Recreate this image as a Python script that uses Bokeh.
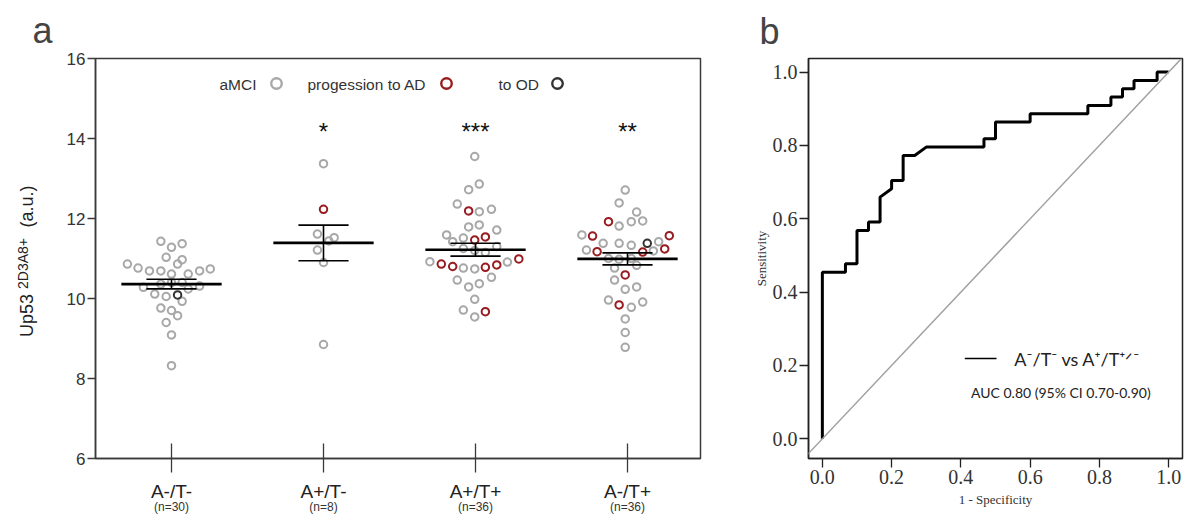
import numpy as np
from bokeh.plotting import figure
from bokeh.models import (ColumnDataSource, Label, FixedTicker, PrintfTickFormatter, Slope,
                          LinearAxis)
from bokeh.layouts import row
from bokeh.embed import file_html
from bokeh.resources import INLINE
from bokeh.core.properties import value

# ---------------- data: panel a ----------------
categories = ["A-/T-", "A+/T-", "A+/T+", "A-/T+"]
n_labels = ["(n=30)", "(n=8)", "(n=36)", "(n=36)"]
stars = ["", "*", "***", "**"]

g1_vals = [11.43, 11.28, 11.37, 11.03, 10.97, 10.86, 10.86, 10.76, 10.69, 10.69,
           10.61, 10.61, 10.69, 10.74, 10.28, 10.36, 10.40, 10.40, 10.24, 10.31,
           10.11, 10.05, 10.09, 9.93, 9.76, 9.70, 9.57, 9.40, 9.09, 8.32]
g1_jit = [-0.07, 0, 0.07, -0.035, 0.07, 0.04, -0.29, -0.22, -0.145, -0.07,
          0, 0.11, 0.185, 0.255, -0.185, -0.07, 0, 0.07, 0.11, 0.185,
          -0.11, -0.035, 0.04, 0.07, -0.07, 0, 0.04, -0.035, 0, 0]
g1_cls = ["aMCI"] * 30
g1_cls[22] = "OD"

g2_vals = [13.37, 12.23, 11.61, 11.44, 11.52, 11.21, 10.90, 8.85]
g2_jit = [0, 0, -0.04, 0.035, 0.07, -0.04, 0, 0]
g2_cls = ["aMCI", "AD", "aMCI", "aMCI", "aMCI", "aMCI", "aMCI", "aMCI"]

g3_vals = [13.55, 12.86, 12.72, 12.36, 12.19, 12.17, 12.23, 11.79, 11.84, 11.71,
           11.59, 11.51, 11.46, 11.54, 11.42, 11.25, 11.20, 11.15, 11.30,
           10.92, 10.86, 10.80, 10.76, 10.74, 10.78, 10.84, 10.91, 10.99,
           10.46, 10.29, 10.37, 10.53, 9.98, 9.71, 9.54, 9.67]
g3_jit = [-0.005, 0.025, -0.045, -0.12, -0.045, 0.025, 0.105, -0.045, 0.025, 0.14,
          -0.19, -0.08, -0.005, 0.065, -0.15, -0.08, -0.005, 0.065, 0.14,
          -0.3, -0.225, -0.15, -0.08, -0.005, 0.065, 0.14, 0.21, 0.285,
          -0.12, -0.045, 0.025, 0.105, -0.005, -0.08, -0.005, 0.065]
g3_cls = ["aMCI"] * 36
for i in [4, 12, 13, 20, 21, 24, 25, 27, 35]:
    g3_cls[i] = "AD"

g4_vals = [12.71, 12.39, 12.16, 11.92, 11.81, 11.92, 11.94, 11.59, 11.56, 11.57,
           11.42, 11.38, 11.38, 11.38, 11.33, 11.21, 11.17, 11.16, 11.24, 11.19,
           11.00, 10.98, 11.00, 10.83, 10.76, 10.59, 10.46, 10.23, 10.29,
           9.96, 9.84, 9.78, 9.91, 9.49, 9.15, 8.78]
g4_jit = [-0.015, -0.055, 0.06, -0.125, -0.055, 0.025, 0.1, -0.3, -0.23, 0.275,
          0.205, 0.13, -0.16, -0.055, 0.025, -0.27, -0.2, 0.1, 0.245, 0.17,
          -0.125, -0.055, 0.025, 0.06, -0.085, -0.015, -0.085, -0.015, 0.06,
          -0.125, -0.055, 0.025, 0.1, -0.015, -0.015, -0.015]
g4_cls = ["aMCI"] * 36
for i in [3, 8, 9, 16, 17, 18, 25, 30]:
    g4_cls[i] = "AD"
g4_cls[11] = "OD"

group_means = [10.36, 11.39, 11.22, 10.99]
group_sems = [0.12, 0.445, 0.16, 0.15]

legend_labels = ["aMCI", "progession to AD", "to OD"]
class_keys = ["aMCI", "AD", "OD"]
class_colors = {"aMCI": "#a8a8a8", "AD": "#981c20", "OD": "#333333"}

ylabel_parts = ["Up53", "2D3A8+", "(a.u.)"]

# ---------------- data: panel b (ROC) ----------------
roc_fpr = [0.0, 0.0, 0.0667, 0.0667, 0.1, 0.1, 0.1333, 0.1333, 0.1667, 0.1667,
           0.2, 0.2, 0.2333, 0.2333, 0.2667, 0.3, 0.4667, 0.4667, 0.5, 0.5,
           0.6, 0.6, 0.7667, 0.7667, 0.8333, 0.8333, 0.8667, 0.8667, 0.9, 0.9,
           0.9667, 0.9667, 1.0]
roc_tpr = [0.0, 0.4545, 0.4545, 0.4773, 0.4773, 0.5682, 0.5682, 0.5909, 0.5909, 0.6591,
           0.6818, 0.7045, 0.7045, 0.7727, 0.7727, 0.7955, 0.7955, 0.8182, 0.8182, 0.8636,
           0.8636, 0.8864, 0.8864, 0.9091, 0.9091, 0.9318, 0.9318, 0.9545, 0.9545, 0.9773,
           0.9773, 1.0, 1.0]
roc_ticks = [0.0, 0.2, 0.4, 0.6, 0.8, 1.0]
roc_legend = "A\u207b/T\u207b vs A\u207a/T\u207a\u141f\u207b"
roc_auc = "AUC 0.80 (95% CI 0.70-0.90)"

SANS = "Liberation Sans"
SERIF = "Liberation Serif"
FRAME = "#3a3a3a"
H = 511
LAB_W = 60
TOP = 58          # shared top border (frames start here)
FH = 400          # shared frame height
BOT = H - TOP - FH

# ---------------- strip left of panel a: panel letter and y-axis title ----------------
lab = figure(width=LAB_W, frame_height=FH, x_range=(0, LAB_W), y_range=(H - TOP - FH, H - TOP),
             x_axis_location=None, y_axis_location=None,
             min_border_left=0, min_border_right=0, min_border_top=TOP, min_border_bottom=BOT,
             output_backend="svg", toolbar_location=None, tools="")
lab.xgrid.visible = False
lab.ygrid.visible = False
lab.outline_line_color = None
lab.background_fill_color = "white"
lab.border_fill_color = "white"
lab.title.text = "a"
lab.title.text_font = SANS
lab.title.text_font_size = "36px"
lab.title.text_font_style = "normal"
lab.title.align = "left"
lab.title.vertical_align = "top"
lab.title.offset = 32
lab.title.standoff = 12
lab.text(x=[26, 22, 26], y=[H - 315, H - 263, H - 206], text=ylabel_parts,
         angle=np.pi / 2, text_font=value(SANS), text_font_size=["18px", "14px", "18px"],
         text_align="center", text_baseline="alphabetic", text_color="#222222")

# ---------------- panel a ----------------
def ax_x(px):
    return 0.5 + (px - 95) / 152.0

def ax_y(py):
    return 6 + (458 - py) / 40.0

pa = figure(frame_width=605, frame_height=FH, min_border_left=95 - LAB_W, min_border_right=48,
            min_border_top=TOP, min_border_bottom=BOT,
            x_range=(0.5, 0.5 + 605 / 152.0), y_range=(6, 16),
            output_backend="svg", toolbar_location=None, tools="")
pa.xgrid.visible = False
pa.ygrid.visible = False
pa.outline_line_color = FRAME
pa.outline_line_width = 1.5
pa.background_fill_color = "white"
pa.border_fill_color = "white"

xs, ys, cols = [], [], []
groups = [(g1_vals, g1_jit, g1_cls), (g2_vals, g2_jit, g2_cls),
          (g3_vals, g3_jit, g3_cls), (g4_vals, g4_jit, g4_cls)]
for ck in class_keys:
    for gi, (vals, jit, cls) in enumerate(groups):
        for v, j, c in zip(vals, jit, cls):
            if c == ck:
                xs.append(gi + 1 + j)
                ys.append(v)
                cols.append(class_colors[c])
src = ColumnDataSource(dict(x=xs, y=ys, c=cols))
pa.scatter("x", "y", source=src, marker="circle", size=7.5, line_width=2,
           line_color="c", fill_color=None)

cat_x = np.arange(1, len(categories) + 1)
m = np.array(group_means)
s = np.array(group_sems)
pa.segment(x0=cat_x - 0.33, x1=cat_x + 0.33, y0=m, y1=m, line_width=2.6, line_color="black")
pa.segment(x0=cat_x - 0.165, x1=cat_x + 0.165, y0=m + s, y1=m + s, line_width=1.6, line_color="black")
pa.segment(x0=cat_x - 0.165, x1=cat_x + 0.165, y0=m - s, y1=m - s, line_width=1.6, line_color="black")
pa.segment(x0=cat_x, x1=cat_x, y0=m - s, y1=m + s, line_width=1.6, line_color="black")

pa.text(x=cat_x, y=[ax_y(131)] * 4, text=stars, text_font=value(SANS),
        text_font_size="24px", text_align="center", text_baseline="alphabetic",
        text_color="#111111")

# legend of panel a
leg_text_x = [ax_x(219), ax_x(307), ax_x(498)]
leg_mark_x = [ax_x(276), ax_x(446), ax_x(557)]
pa.text(x=leg_text_x, y=[ax_y(84)] * 3, text=legend_labels, text_font=value(SANS),
        text_font_size="15.5px", text_align="left", text_baseline="middle", text_color="#333333")
pa.scatter(x=leg_mark_x, y=[ax_y(83)] * 3, marker="circle", size=10.5, line_width=2.4,
           line_color=[class_colors[k] for k in class_keys], fill_color=None)

# axes
pa.xaxis.ticker = FixedTicker(ticks=list(cat_x))
pa.xaxis.major_label_overrides = {int(i): c for i, c in zip(cat_x, categories)}
pa.xaxis.major_tick_in = 15
pa.xaxis.major_tick_out = 14
pa.xaxis.minor_tick_line_color = None
pa.xaxis.major_label_text_font = SANS
pa.xaxis.major_label_text_font_size = "19px"
pa.xaxis.major_label_text_color = "#222222"
pa.xaxis.major_label_standoff = 8
pa.xaxis.axis_line_color = FRAME
pa.xaxis.axis_line_width = 1.5
pa.xaxis.major_tick_line_color = FRAME
pa.xaxis.major_tick_line_width = 1.3

n_axis = LinearAxis(ticker=FixedTicker(ticks=list(cat_x)),
                    major_label_overrides={int(i): t for i, t in zip(cat_x, n_labels)},
                    major_tick_in=0, major_tick_out=0, minor_tick_in=0, minor_tick_out=0,
                    major_tick_line_color=None, minor_tick_line_color=None,
                    axis_line_color=None, major_label_standoff=-5,
                    major_label_text_font=SANS, major_label_text_font_size="12px",
                    major_label_text_color="#333333")
pa.add_layout(n_axis, "below")

pa.yaxis.ticker = FixedTicker(ticks=[6, 8, 10, 12, 14, 16])
pa.yaxis.major_tick_in = 0
pa.yaxis.major_tick_out = 8
pa.yaxis.minor_tick_line_color = None
pa.yaxis.major_label_text_font = SANS
pa.yaxis.major_label_text_font_size = "17px"
pa.yaxis.major_label_text_color = "#333333"
pa.yaxis.major_label_standoff = 2
pa.yaxis.axis_line_color = FRAME
pa.yaxis.axis_line_width = 1.5
pa.yaxis.major_tick_line_color = FRAME
pa.yaxis.major_tick_line_width = 1.3

# ---------------- panel b ----------------
def bx_x(px):
    return (px - 826) / 350.0

def bx_y(py):
    return (438.3 - py) / 366.7

pb = figure(frame_width=374, frame_height=FH, min_border_left=60, min_border_right=2,
            min_border_top=TOP, min_border_bottom=BOT,
            x_range=(-0.04, 1.04), y_range=(bx_y(TOP + FH), bx_y(TOP)),
            output_backend="svg", toolbar_location=None, tools="")
pb.xgrid.visible = False
pb.ygrid.visible = False
pb.outline_line_color = "#222222"
pb.outline_line_width = 1.5
pb.background_fill_color = "white"
pb.border_fill_color = "white"

pb.title.text = "b"
pb.title.text_font = SANS
pb.title.text_font_size = "36px"
pb.title.text_font_style = "normal"
pb.title.align = "left"
pb.title.vertical_align = "top"
pb.title.offset = -49
pb.title.standoff = 10

pb.add_layout(Slope(gradient=1, y_intercept=0, line_color="#a0a0a0", line_width=1.5))
pb.line(roc_fpr, roc_tpr, line_width=3, line_color="black")

for ax in (pb.xaxis, pb.yaxis):
    ax.ticker = FixedTicker(ticks=roc_ticks)
    ax.formatter = PrintfTickFormatter(format="%.1f")
    ax.major_tick_in = 0
    ax.major_tick_out = 9
    ax.minor_tick_line_color = None
    ax.major_label_text_font = SERIF
    ax.major_label_text_font_size = "20px"
    ax.major_label_text_color = "#333333"
    ax.axis_line_color = "#222222"
    ax.axis_line_width = 1.5
    ax.major_tick_line_color = "#222222"
    ax.major_tick_line_width = 1.3
    ax.axis_label_text_font = SERIF
    ax.axis_label_text_font_size = "13px"
    ax.axis_label_text_font_style = "normal"
    ax.axis_label_text_color = "#333333"
pb.xaxis.major_label_standoff = 2
pb.yaxis.major_label_standoff = 2
pb.xaxis.axis_label = "1 - Specificity"
pb.xaxis.axis_label_standoff = 5
pb.yaxis.axis_label = "Sensitivity"
pb.yaxis.axis_label_standoff = 1

pb.line([bx_x(970), bx_x(1002)], [bx_y(358), bx_y(358)], line_width=1.5, line_color="black")
pb.add_layout(Label(x=bx_x(1020), y=bx_y(358), text=roc_legend, text_font="Lato",
                    text_font_size="18px", text_align="left", text_baseline="middle",
                    text_color="#222222"))
pb.add_layout(Label(x=bx_x(1067), y=bx_y(392), text=roc_auc, text_font="Lato",
                    text_font_size="14px", text_align="center", text_baseline="middle",
                    text_color="#222222"))

layout = row(lab, pa, pb)
open("out.html", "w").write(file_html(layout, INLINE))
